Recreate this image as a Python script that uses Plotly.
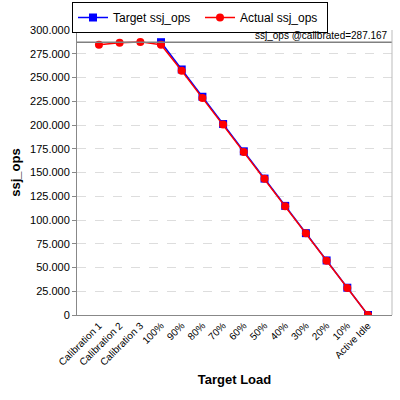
import plotly.graph_objects as go

categories = ["Calibration 1", "Calibration 2", "Calibration 3", "100%", "90%", "80%",
              "70%", "60%", "50%", "40%", "30%", "20%", "10%", "Active Idle"]
target_ops = [None, None, None, 287167, 258450, 229734, 201017, 172300,
              143584, 114867, 86150, 57433, 28717, 0]
actual_ops = [284500, 286500, 287500, 284500, 257000, 228500, 200500, 171500,
              143500, 114500, 86000, 57000, 28500, 0]
calibrated = 287167
y_ticks = [0, 25000, 50000, 75000, 100000, 125000, 150000, 175000, 200000,
           225000, 250000, 275000, 300000]

fig = go.Figure()
fig.add_trace(go.Scatter(
    x=categories, y=target_ops, name="Target ssj_ops", mode="lines+markers",
    line=dict(color="#0000ff", width=1.5),
    marker=dict(symbol="square", size=8, color="#0000ff"),
))
fig.add_trace(go.Scatter(
    x=categories, y=actual_ops, name="Actual ssj_ops", mode="lines+markers",
    line=dict(color="#ff0000", width=1.5),
    marker=dict(symbol="circle", size=8, color="#ff0000"),
))
fig.add_hline(y=calibrated, line=dict(color="#808080", width=1.5))
fig.add_annotation(
    text="ssj_ops @calibrated=287.167", xref="paper", yref="y",
    x=0.99, y=calibrated, xanchor="right", yanchor="bottom", showarrow=False,
    font=dict(size=10, color="black"), borderpad=0,
)

fig.update_layout(
    width=400, height=400,
    margin=dict(l=77, r=8, t=30, b=85, autoexpand=False),
    paper_bgcolor="white", plot_bgcolor="white",
    font=dict(family="Liberation Sans, Arial, sans-serif", color="black"),
    separators=",.",
    showlegend=True,
    legend=dict(
        orientation="h", x=0.5, y=0.995, xanchor="center", yanchor="top",
        xref="container", yref="container",
        bordercolor="black", borderwidth=1, bgcolor="white",
        font=dict(size=12), itemwidth=30, entrywidth=82,
    ),
    xaxis=dict(
        type="category", range=[-1.06, 14.16],
        tickangle=-45, tickfont=dict(size=10), automargin=False,
        title=dict(text="<b>Target Load</b>", font=dict(size=13), standoff=8),
        showgrid=False, showline=True, linecolor="#888888", mirror=False,
        ticks="", zeroline=False,
    ),
    yaxis=dict(
        range=[0, 300000], tickvals=y_ticks, tickformat=",d",
        tickfont=dict(size=11), automargin=False,
        title=dict(text="<b>ssj_ops</b>", font=dict(size=13), standoff=6),
        showgrid=True, gridcolor="#dddddd", griddash="dash", gridwidth=1,
        showline=True, linecolor="#888888", ticks="outside", ticklen=4,
        tickcolor="#888888", zeroline=False,
    ),
    shapes=[
        dict(type="line", xref="paper", yref="paper", x0=0, x1=1, y0=1, y1=1,
             line=dict(color="#bbbbbb", width=1)),
        dict(type="line", xref="paper", yref="paper", x0=1, x1=1, y0=0, y1=1,
             line=dict(color="#bbbbbb", width=1)),
    ],
)

# drop the browser's default page margin so the 400x400 figure fills the window
fig.write_html("out.html", config={"displayModeBar": False},
               post_script="document.body.style.margin = '0';")
